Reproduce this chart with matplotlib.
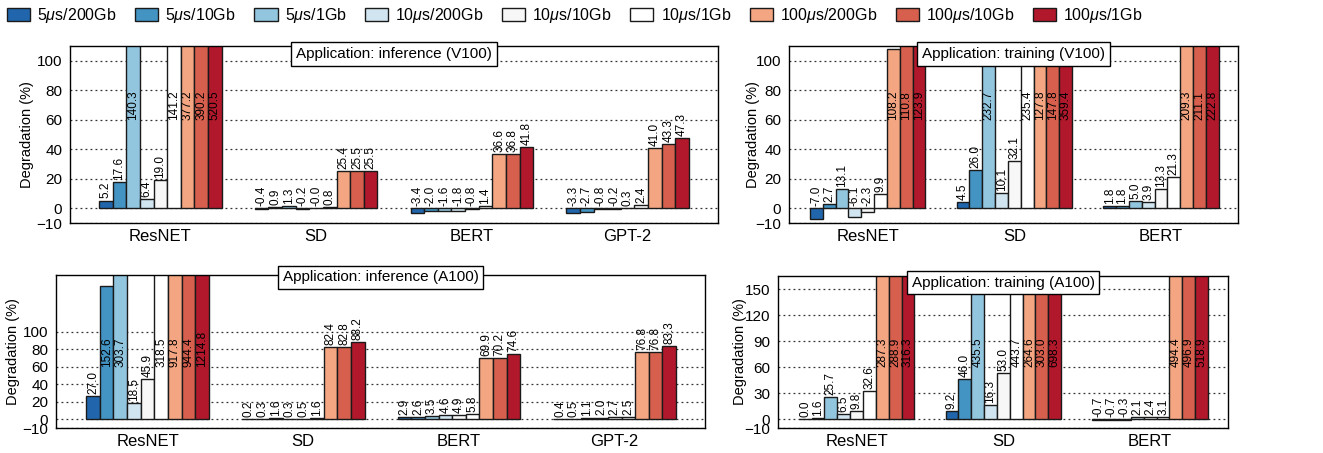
#!/usr/bin/env python3
"""
Grouped bars: degradation (%) per application under injected latency/bandwidth
Four panels: inference/training on V100 and A100
"""

import matplotlib
matplotlib.use("Agg")
import matplotlib.pyplot as plt
import numpy as np

plt.rcParams["font.family"] = ["Liberation Sans", "DejaVu Sans"]
plt.rcParams["mathtext.fontset"] = "custom"
plt.rcParams["mathtext.it"] = "Liberation Sans:italic"

# --- Data ---
configs = [
    r"5$\mu$s/200Gb", r"5$\mu$s/10Gb", r"5$\mu$s/1Gb",
    r"10$\mu$s/200Gb", r"10$\mu$s/10Gb", r"10$\mu$s/1Gb",
    r"100$\mu$s/200Gb", r"100$\mu$s/10Gb", r"100$\mu$s/1Gb",
]
colors = ["#2166ac", "#4393c3", "#92c5de", "#d1e5f0", "#f7f7f7",
          "#ffffff", "#f4a582", "#d6604d", "#b2182b"]

apps_inf = ["ResNET", "SD", "BERT", "GPT-2"]
apps_train = ["ResNET", "SD", "BERT"]

# rows = application, columns = config
inf_v100 = [
    [5.2, 17.6, 140.3, 6.4, 19.0, 141.2, 377.2, 390.2, 520.5],
    [-0.4, 0.9, 1.3, -0.2, -0.0, 0.8, 25.4, 25.5, 25.5],
    [-3.4, -2.0, -1.6, -1.8, -0.8, 1.4, 36.6, 36.8, 41.8],
    [-3.3, -2.7, -0.8, -0.2, 0.3, 2.4, 41.0, 43.3, 47.3],
]
train_v100 = [
    [-7.0, 2.7, 13.1, -6.1, -2.3, 9.9, 108.2, 110.8, 123.9],
    [4.5, 26.0, 232.7, 10.1, 32.1, 235.4, 127.8, 147.8, 359.4],
    [1.8, 1.8, 5.0, 3.9, 13.3, 21.3, 209.3, 211.1, 222.8],
]
inf_a100 = [
    [27.0, 152.6, 303.7, 18.5, 45.9, 318.5, 917.8, 944.4, 1214.8],
    [0.2, 0.3, 1.6, 0.3, 0.5, 1.6, 82.4, 82.8, 88.2],
    [2.9, 2.6, 3.5, 4.6, 4.9, 5.8, 69.9, 70.2, 74.6],
    [0.4, 0.5, 1.1, 2.0, 2.7, 2.5, 76.8, 76.8, 83.3],
]
train_a100 = [
    [0.0, 1.6, 25.7, 6.5, 9.8, 32.6, 287.3, 288.9, 316.3],
    [9.2, 46.0, 435.5, 16.3, 53.0, 443.7, 264.6, 303.0, 698.3],
    [-0.7, -0.7, -0.3, 2.1, 2.4, 3.1, 494.4, 496.9, 518.9],
]

yticks_top = [-10, 0, 20, 40, 60, 80, 100]
yticks_inf_a100 = [-10, 0, 20, 40, 60, 80, 100]
yticks_train_a100 = [-10, 0, 30, 60, 90, 120, 150]

# --- Figure ---
W, H = 1323, 453
fig = plt.figure(figsize=(W / 100, H / 100), dpi=100)


def px_axes(left, top, right, bottom):
    return fig.add_axes([left / W, 1 - bottom / H, (right - left) / W, (bottom - top) / H])


def panel(ax, apps, data, title, ylim, yticks, xlim, ylab_px, ax_left, ax_w, box_dy):
    data = np.array(data)
    n = len(configs)
    w = 0.0875
    x = np.arange(len(apps))
    for j in range(n):
        xs = x + (j - (n - 1) / 2) * w
        vals = data[:, j]
        ax.bar(xs, vals, width=w, color=colors[j], edgecolor="#1a1a1a",
               linewidth=1.0, zorder=3)
        for xi, v in zip(xs, vals):
            if v > 100:
                ax.text(xi, 60, f"{v:.1f}", rotation=90, ha="center",
                        va="bottom", fontsize=8.5, zorder=5)
            else:
                ax.annotate(f"{v:.1f}", xy=(xi, max(v, 0)), xytext=(0, 1.5),
                            textcoords="offset points", rotation=90,
                            ha="center", va="bottom", fontsize=8.5, zorder=2)
    ax.set_xlim(*xlim)
    ax.set_ylim(*ylim)
    ax.set_yticks(yticks)
    ax.set_xticks(x)
    ax.set_xticklabels(apps, fontsize=12)
    ax.tick_params(axis="y", length=0, pad=5.5, labelsize=11)
    ax.tick_params(axis="x", length=0, pad=4)
    ax.yaxis.grid(True, linestyle=(0, (1.5, 2.5)), color="#333333",
                  linewidth=0.9, zorder=0)
    ax.set_axisbelow(True)
    for s in ax.spines.values():
        s.set_linewidth(1.0)
        s.set_zorder(6)
    ax.set_ylabel("Degradation (%)", fontsize=10.5)
    ax.yaxis.set_label_coords((ylab_px - ax_left) / ax_w, 0.5)
    ax.text(0.5, 1 + box_dy, title, transform=ax.transAxes, ha="center",
            va="top", fontsize=11, zorder=10,
            bbox=dict(boxstyle="square,pad=0.3", facecolor="white",
                      edgecolor="black", linewidth=1.0))


ax1 = px_axes(70, 46, 718, 223)
panel(ax1, apps_inf, inf_v100, "Application: inference (V100)", (-10, 110),
      yticks_top, (-0.58, 3.58), 34, 70, 648, -0.006)

ax2 = px_axes(789, 46, 1238, 223)
panel(ax2, apps_train, train_v100, "Application: training (V100)", (-10, 110),
      yticks_top, (-0.537, 2.525), 760, 789, 449, -0.006)

ax3 = px_axes(56, 275, 705, 428)
panel(ax3, apps_inf, inf_a100, "Application: inference (A100)", (-10, 165),
      yticks_inf_a100, (-0.588, 3.58), 20, 56, 649, 0.03)

ax4 = px_axes(778, 276, 1228, 428)
panel(ax4, apps_train, train_a100, "Application: training (A100)", (-10, 165),
      yticks_train_a100, (-0.535, 2.53), 747, 778, 450, 0.003)

# Legend across the top
handles = [plt.Rectangle((0, 0), 1, 1, facecolor=c, edgecolor="#1a1a1a", linewidth=1.0)
           for c in colors]
fig.legend(handles, configs, loc="upper left", bbox_to_anchor=(-0.002, 1.008),
           ncol=9, frameon=False, fontsize=11.5, handlelength=1.45,
           handleheight=0.8, handletextpad=0.45, columnspacing=1.15,
           borderaxespad=0.2)

fig.savefig("out.png", dpi=100, facecolor="white")
